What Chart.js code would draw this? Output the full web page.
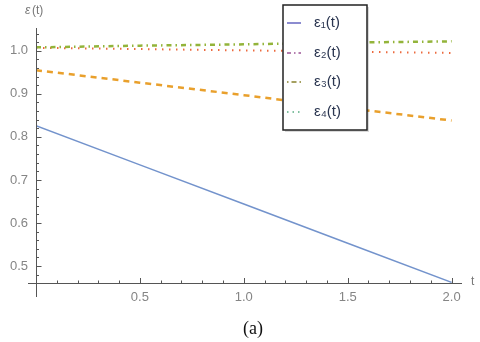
<!DOCTYPE html>
<html>
<head>
<meta charset="utf-8">
<script src="https://cdn.jsdelivr.net/npm/chart.js@4.4.1/dist/chart.umd.min.js"></script>
<style>
  body { margin: 0; background: #fff; }
  #wrap { position: relative; width: 480px; height: 342px; }
  #caption { position: absolute; left: 0; width: 506px; top: 318px; text-align: center;
    font-family: "Liberation Serif", serif; font-size: 18px; color: #111; }
</style>
</head>
<body>
<div id="wrap">
  <canvas id="chart" width="480" height="342"></canvas>
  <div id="caption">(a)</div>
</div>
<script>
// values
const tValues = [0, 0.5, 1, 1.5, 2];
const eps1 = [0.826, 0.735, 0.644, 0.553, 0.462];
const eps2 = [0.955, 0.926, 0.897, 0.867, 0.838];
const eps3 = [1.008, 1.012, 1.015, 1.019, 1.022];
const eps4 = [1.007, 1.004, 1.001, 0.998, 0.995];
const seriesLabels = ['ε₁(t)', 'ε₂(t)', 'ε₃(t)', 'ε₄(t)'];
const xTickLabels = [0.5, 1.0, 1.5, 2.0];
const yTickLabels = [0.5, 0.6, 0.7, 0.8, 0.9, 1.0];

const toPoints = (ys) => tValues.map((t, i) => ({ x: t, y: ys[i] }));

// legend swatch colours as they appear in the picture
const legendSwatches = [
  { color: '#8c8cd0', dash: [], width: 2 },
  { color: '#b57fb0', dash: [4, 3, 1.5, 3], width: 2 },
  { color: '#a5a060', dash: [1.5, 3, 5, 3], width: 2 },
  { color: '#80c0a0', dash: [1.5, 4], width: 2 }
];

const axesPlugin = {
  id: 'mmaAxes',
  afterDatasetsDraw(chart) {
    const { ctx, scales: { x, y } } = chart;
    const x0 = x.getPixelForValue(0);
    const y0 = y.bottom;
    ctx.save();
    ctx.strokeStyle = '#555';
    ctx.lineWidth = 1;
    ctx.beginPath();
    ctx.moveTo(x0 - 8, y0 + 0.5); ctx.lineTo(x.right, y0 + 0.5);
    ctx.moveTo(x0 + 0.5, y.top); ctx.lineTo(x0 + 0.5, y0 + 14);
    // x ticks
    for (let k = 1; k <= 20; k++) {
      const px = Math.round(x.getPixelForValue(k / 10)) + 0.5;
      const len = k % 5 === 0 ? 5 : 2.5;
      ctx.moveTo(px, y0); ctx.lineTo(px, y0 - len);
    }
    // y ticks
    for (let k = 24; k <= 52; k++) {
      const v = k / 50;
      if (v < y.min || v > y.max) continue;
      const py = Math.round(y.getPixelForValue(v)) + 0.5;
      const len = k % 5 === 0 ? 5.5 : 3;
      ctx.moveTo(x0, py); ctx.lineTo(x0 + len, py);
    }
    ctx.stroke();

    ctx.fillStyle = '#777';
    ctx.font = 'italic 12px "Liberation Sans"';
    ctx.textBaseline = 'middle';
    ctx.fillText('ε', 25, 11);
    ctx.font = '12px "Liberation Sans"';
    ctx.fillText('(t)', 32, 11);
    ctx.fillText('t', 471, y0 - 1);

    // legend box
    const bx = 283, by = 5, bw = 84, bh = 125;
    ctx.fillStyle = 'rgba(0,0,0,0.15)';
    ctx.fillRect(bx + 2, by + 2, bw, bh);
    ctx.fillStyle = '#fff';
    ctx.fillRect(bx, by, bw, bh);
    ctx.strokeStyle = '#222';
    ctx.lineWidth = 1.5;
    ctx.strokeRect(bx, by, bw, bh);
    const rows = [23, 53, 82, 112];
    rows.forEach((ry, i) => {
      const s = legendSwatches[i];
      ctx.strokeStyle = s.color;
      ctx.lineWidth = s.width;
      ctx.setLineDash(s.dash);
      ctx.beginPath();
      ctx.moveTo(287, ry); ctx.lineTo(301, ry);
      ctx.stroke();
      ctx.setLineDash([]);
      ctx.fillStyle = '#2a3550';
      ctx.font = '15px "Liberation Sans"';
      ctx.fillText(seriesLabels[i], 314, ry);
    });
    ctx.restore();
  }
};

new Chart(document.getElementById('chart'), {
  type: 'line',
  data: {
    datasets: [{
      label: seriesLabels[0],
      data: toPoints(eps1),
      borderColor: '#7393cc',
      borderWidth: 1.5
    }, {
      label: seriesLabels[1],
      data: toPoints(eps2),
      borderColor: '#e9a02c',
      borderWidth: 2.5,
      borderDash: [6, 5]
    }, {
      label: seriesLabels[2],
      data: toPoints(eps3),
      borderColor: '#93b43a',
      borderWidth: 2.5,
      borderDash: [5, 4, 1.5, 4]
    }, {
      label: seriesLabels[3],
      data: toPoints(eps4),
      borderColor: '#ec6a3e',
      borderWidth: 2,
      borderDash: [1.5, 5.5]
    }]
  },
  options: {
    responsive: false,
    animation: false,
    layout: { padding: { top: 28, right: 18, left: 0, bottom: 0 } },
    elements: { point: { radius: 0 }, line: { tension: 0 } },
    plugins: { legend: { display: false }, tooltip: { enabled: false } },
    scales: {
      x: {
        type: 'linear',
        min: 0,
        max: 2.05,
        grid: { display: false, drawTicks: false },
        border: { display: false },
        afterFit: (s) => { s.height = 59; },
        afterBuildTicks: (s) => { s.ticks = xTickLabels.map(v => ({ value: v })); },
        ticks: {
          padding: 7,
          color: '#858585',
          font: { family: 'Liberation Sans', size: 13 },
          callback: (v) => v.toFixed(1)
        }
      },
      y: {
        min: 0.4605,
        max: 1.053,
        grid: { display: false, drawTicks: false },
        border: { display: false },
        afterFit: (s) => { s.width = 36; },
        afterBuildTicks: (s) => { s.ticks = yTickLabels.map(v => ({ value: v })); },
        ticks: {
          padding: 8,
          color: '#858585',
          font: { family: 'Liberation Sans', size: 13 },
          callback: (v) => v.toFixed(1)
        }
      }
    }
  },
  plugins: [axesPlugin]
});
</script>
</body>
</html>
